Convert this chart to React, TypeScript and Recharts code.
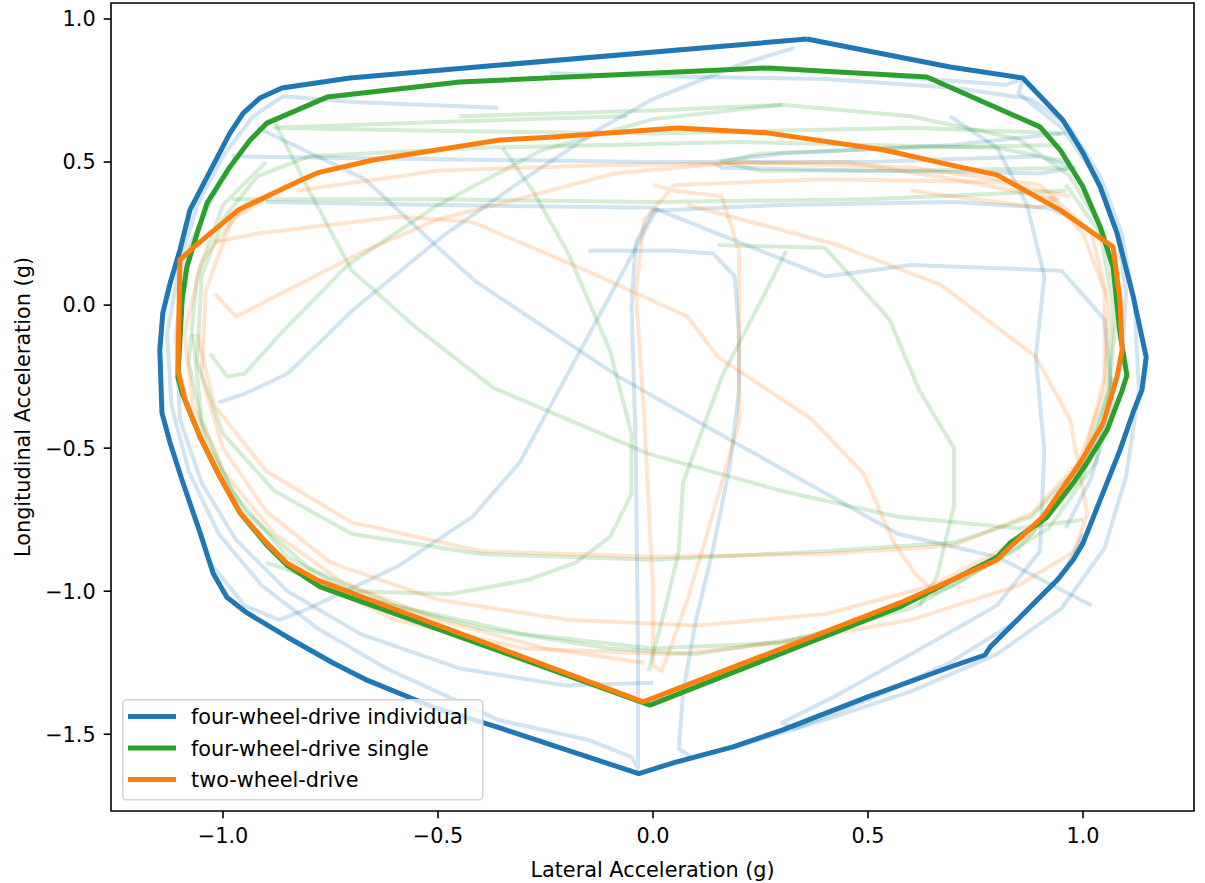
import React from 'react';
import { LineChart, Line, XAxis, YAxis, ReferenceArea, Legend, Label } from 'recharts';

type Pt = [number, number];

const FONT = '"DejaVu Sans", "Liberation Sans", sans-serif';
const BLUE = '#1f77b4';
const GREEN = '#2ca02c';
const ORANGE = '#ff7f0e';

// Axis limits and ticks
const xDomain: [number, number] = [-1.2605, 1.2581];
const yDomain: [number, number] = [-1.7683, 1.0559];
const xTicks = [-1.0, -0.5, 0.0, 0.5, 1.0];
const yTicks = [-1.5, -1.0, -0.5, 0.0, 0.5, 1.0];

// Friction-circle envelopes (lateral g, longitudinal g)
const fourWheelIndividual: Pt[] = [
  [0.358, 0.93], [0.691, 0.832], [0.86, 0.794], [0.9, 0.731], [0.953, 0.647], [1.0, 0.532],
  [1.04, 0.413], [1.079, 0.252], [1.116, 0.035], [1.147, -0.182], [1.137, -0.297], [1.116, -0.377],
  [1.086, -0.507], [1.04, -0.681], [1.0, -0.832], [0.977, -0.891], [0.94, -0.961], [0.9, -1.02],
  [0.847, -1.101], [0.784, -1.195], [0.772, -1.223], [0.691, -1.265], [0.498, -1.37], [0.302, -1.485],
  [0.186, -1.544], [0.047, -1.6], [-0.033, -1.638], [-0.356, -1.478], [-0.512, -1.405], [-0.665, -1.311],
  [-0.744, -1.251], [-0.851, -1.16], [-0.944, -1.076], [-0.991, -1.021], [-1.023, -0.937], [-1.053, -0.797],
  [-1.093, -0.622], [-1.123, -0.482], [-1.142, -0.377], [-1.147, -0.157], [-1.14, -0.027], [-1.123, 0.077],
  [-1.1, 0.193], [-1.077, 0.332], [-1.037, 0.448], [-0.984, 0.601], [-0.953, 0.671], [-0.914, 0.724],
  [-0.863, 0.759], [-0.705, 0.794], [-0.356, 0.839], [0.358, 0.93],
];

const fourWheelSingle: Pt[] = [
  [0.267, 0.829], [0.637, 0.797], [0.9, 0.623], [0.947, 0.542], [1.0, 0.413], [1.04, 0.273],
  [1.07, 0.133], [1.086, -0.098], [1.102, -0.245], [1.091, -0.298], [1.056, -0.437], [1.009, -0.552],
  [0.977, -0.622], [0.916, -0.741], [0.83, -0.832], [0.8, -0.881], [0.574, -1.055], [-0.007, -1.398],
  [-0.774, -0.985], [-0.851, -0.909], [-0.898, -0.839], [-0.96, -0.727], [-1.007, -0.601], [-1.053, -0.462],
  [-1.095, -0.308], [-1.105, -0.252], [-1.095, 0.018], [-1.084, 0.133], [-1.06, 0.252], [-1.037, 0.357],
  [-0.984, 0.483], [-0.937, 0.577], [-0.898, 0.636], [-0.758, 0.727], [-0.449, 0.78], [0.267, 0.829],
];

const twoWheel: Pt[] = [
  [0.056, 0.619], [0.265, 0.602], [0.535, 0.543], [0.691, 0.49], [0.8, 0.455], [0.947, 0.332],
  [1.07, 0.203], [1.086, 0.018], [1.091, -0.157], [1.079, -0.251], [1.047, -0.412], [0.993, -0.552],
  [0.907, -0.739], [0.823, -0.856], [0.8, -0.891], [0.574, -1.041], [-0.023, -1.387], [-0.781, -0.961],
  [-0.851, -0.902], [-0.898, -0.832], [-0.96, -0.727], [-1.007, -0.601], [-1.053, -0.462], [-1.088, -0.332],
  [-1.105, -0.227], [-1.1, 0.158], [-1.07, 0.2], [-0.965, 0.332], [-0.828, 0.43], [-0.781, 0.462],
  [-0.651, 0.507], [-0.356, 0.577], [-0.24, 0.587], [0.056, 0.619],
];

// Lap traces, four-wheel-drive individual
const blueLapA: Pt[] = [
  [-0.36, 0.69], [-0.7, 0.71], [-0.86, 0.73], [-0.93, 0.66], [-1.0, 0.52], [-1.06, 0.35], [-1.1, 0.15],
  [-1.13, -0.1], [-1.12, -0.35], [-1.08, -0.58], [-1.01, -0.8], [-0.91, -0.98], [-0.78, -1.13],
  [-0.62, -1.27], [-0.36, -1.45], [-0.15, -1.52], [-0.05, -1.58], [-0.035, -1.62], [-0.035, -1.2],
  [-0.04, -0.5], [-0.05, 0.0], [-0.04, 0.22], [0.0, 0.33], [0.3, 0.35], [0.7, 0.36], [0.92, 0.34], [0.98, 0.3],
];
const blueLapB: Pt[] = [
  [-0.15, 0.19], [0.05, 0.19], [0.14, 0.18], [0.19, 0.1], [0.2, -0.1], [0.2, -0.3], [0.18, -0.55],
  [0.14, -0.85], [0.1, -1.1], [0.07, -1.35], [0.06, -1.55], [0.09, -1.58], [0.2, -1.54], [0.4, -1.45],
  [0.6, -1.35], [0.8, -1.22], [0.95, -1.06], [1.05, -0.85], [1.1, -0.6], [1.13, -0.3], [1.12, 0.0],
  [1.09, 0.25], [1.04, 0.45], [0.97, 0.62], [0.88, 0.72], [0.7, 0.76], [0.4, 0.79], [0.0, 0.8], [-0.24, 0.81],
];
const blueLapC: Pt[] = [
  [-1.01, -0.34], [-0.95, -0.31], [-0.85, -0.24], [-0.7, -0.02], [-0.49, 0.24], [-0.3, 0.44],
  [-0.12, 0.62], [0.0, 0.72], [0.2, 0.84], [0.33, 0.9],
];
const blueLapD: Pt[] = [
  [-0.92, 0.62], [-0.67, 0.44], [-0.47, 0.16], [-0.41, 0.08], [-0.08, -0.25], [0.19, -0.48],
  [0.57, -0.8], [0.8, -0.88], [0.93, -0.98], [1.02, -1.05],
];
const blueLapE: Pt[] = [
  [0.01, 0.34], [-0.09, 0.06], [-0.31, -0.55], [-0.42, -0.74], [-0.59, -0.91], [-0.8, -1.06],
  [-0.87, -1.1], [-0.95, -1.05], [-1.03, -0.9],
];
const blueLapF: Pt[] = [
  [0.69, 0.66], [0.8, 0.55], [0.87, 0.35], [0.91, 0.1], [0.89, -0.18], [0.91, -0.51], [0.9, -0.86],
  [0.8, -1.05], [0.6, -1.22], [0.42, -1.37], [0.3, -1.46], [0.33, -1.48], [0.5, -1.38], [0.69, -1.25],
  [0.85, -1.1], [0.95, -0.95], [1.0, -0.8],
];
const blueLapG: Pt[] = [
  [-0.98, 0.52], [-0.5, 0.51], [0.0, 0.5], [0.5, 0.5], [0.9, 0.52], [0.98, 0.48], [0.9, 0.46],
  [0.5, 0.47], [0.16, 0.48], [0.14, 0.5], [0.3, 0.53], [0.7, 0.56], [0.95, 0.6],
];
const blueLapH: Pt[] = [
  [-0.9, 0.36], [-0.5, 0.35], [0.0, 0.34], [0.4, 0.1], [0.6, 0.14], [0.95, 0.12], [1.05, -0.05],
  [1.07, -0.35], [1.02, -0.6], [0.96, -0.78],
];
const blueLapI: Pt[] = [
  [-1.0, 0.45], [-1.08, 0.2], [-1.11, -0.1], [-1.1, -0.4], [-1.05, -0.62], [-0.97, -0.82],
  [-0.85, -1.0], [-0.68, -1.15], [-0.45, -1.27], [-0.2, -1.33], [0.0, -1.32],
];
const blueLapJ: Pt[] = [
  [0.55, 0.8], [0.82, 0.77], [0.86, 0.79], [0.85, 0.74], [0.95, 0.62], [1.03, 0.45], [1.08, 0.25],
  [1.1, 0.05], [1.09, -0.2], [1.04, -0.45], [0.99, -0.6],
];

// Lap traces, four-wheel-drive single
const greenLapA: Pt[] = [
  [-0.45, 0.66], [0.0, 0.68], [0.3, 0.7], [0.6, 0.66], [0.85, 0.58], [0.97, 0.45], [1.05, 0.25],
  [1.08, 0.0], [1.06, -0.3], [1.0, -0.55], [0.88, -0.74], [0.7, -0.83], [0.4, -0.86], [0.0, -0.89],
  [-0.4, -0.87], [-0.7, -0.8], [-0.88, -0.65], [-1.0, -0.45], [-1.06, -0.2], [-1.05, 0.1], [-1.0, 0.3],
  [-0.92, 0.45], [-0.8, 0.52], [-0.4, 0.55], [0.2, 0.57], [0.8, 0.55], [0.97, 0.5],
];
const greenLapB: Pt[] = [
  [-0.88, 0.64], [-0.8, 0.4], [-0.7, 0.12], [-0.55, -0.08], [-0.37, -0.29], [-0.01, -0.52],
  [0.3, -0.65], [0.57, -0.74], [0.85, -0.78], [1.0, -0.75],
];
const greenLapC: Pt[] = [
  [-1.03, -0.17], [-0.99, -0.25], [-0.95, -0.24], [-0.86, -0.09], [-0.71, 0.14], [-0.5, 0.35],
  [-0.26, 0.54], [0.0, 0.65], [0.3, 0.7],
];
const greenLapD: Pt[] = [
  [0.31, 0.19], [0.26, 0.04], [0.16, -0.25], [0.07, -0.62], [0.06, -0.86], [0.03, -1.05],
  [0.0, -1.22], [-0.01, -1.28],
];
const greenLapE: Pt[] = [
  [-0.35, 0.55], [-0.28, 0.4], [-0.2, 0.19], [-0.1, -0.16], [-0.05, -0.45], [-0.05, -0.66],
  [-0.1, -0.81], [-0.18, -0.9], [-0.29, -0.96], [-0.47, -1.01], [-0.7, -1.0], [-0.9, -0.9],
];
const greenLapF: Pt[] = [
  [0.15, 0.21], [0.4, 0.2], [0.55, -0.05], [0.62, -0.3], [0.7, -0.5], [0.7, -0.7], [0.66, -0.95], [0.62, -1.05],
];
const greenLapG: Pt[] = [
  [0.98, 0.48], [0.6, 0.47], [0.25, 0.47], [0.16, 0.5], [0.25, 0.53], [0.6, 0.55], [0.95, 0.56],
];
const greenLapH: Pt[] = [
  [-0.98, 0.37], [-0.5, 0.37], [0.0, 0.36], [0.5, 0.37], [0.96, 0.4],
];
const greenLapI: Pt[] = [
  [-1.07, -0.1], [-1.05, -0.4], [-0.98, -0.65], [-0.85, -0.88], [-0.68, -1.02], [-0.4, -1.13],
  [-0.1, -1.2], [0.1, -1.22], [0.4, -1.15], [0.7, -0.98], [0.92, -0.78], [1.03, -0.55], [1.07, -0.25],
];
const greenLapJ: Pt[] = [
  [-0.06, 0.66], [-0.5, 0.64], [-0.88, 0.62], [-0.55, 0.61], [0.0, 0.6], [0.6, 0.62], [0.96, 0.6],
];
const greenLapK: Pt[] = [
  [-0.9, 0.5], [-1.0, 0.35], [-1.06, 0.1], [-1.08, -0.2], [-1.04, -0.48], [-0.95, -0.72], [-0.8, -0.92],
  [-0.6, -1.05], [-0.3, -1.15], [0.0, -1.2], [0.3, -1.18], [0.6, -1.06], [0.85, -0.85], [1.0, -0.6],
  [1.06, -0.3], [1.07, 0.0], [1.04, 0.25], [0.96, 0.42],
];

// Lap traces, two-wheel-drive
const orangeLapA: Pt[] = [
  [-1.02, 0.04], [-0.97, -0.04], [-0.84, 0.06], [-0.67, 0.19], [-0.5, 0.3], [-0.34, 0.36], [-0.09, 0.46],
  [0.2, 0.5], [0.6, 0.48], [0.9, 0.42], [1.02, 0.25], [1.06, 0.0], [1.05, -0.3], [0.99, -0.55],
  [0.88, -0.73], [0.7, -0.84], [0.4, -0.87], [0.0, -0.88], [-0.4, -0.86], [-0.7, -0.76], [-0.9, -0.58],
  [-1.02, -0.35], [-1.06, -0.1],
];
const orangeLapB: Pt[] = [
  [-1.02, 0.22], [-0.92, 0.25], [-0.59, 0.31], [-0.42, 0.29], [-0.17, 0.13], [0.08, -0.04], [0.15, -0.18],
  [0.37, -0.4], [0.49, -0.59], [0.56, -0.83], [0.61, -0.94], [0.66, -1.01],
];
const orangeLapC: Pt[] = [
  [0.08, 0.35], [0.43, 0.21], [0.67, 0.07], [0.89, -0.18], [0.97, -0.4], [1.01, -0.73], [0.98, -0.86],
  [0.85, -0.98], [0.6, -1.1], [0.3, -1.18], [0.05, -1.22], [-0.3, -1.2], [-0.6, -1.1], [-0.85, -0.92],
];
const orangeLapD: Pt[] = [
  [0.0, 0.42], [0.05, 0.4], [0.16, 0.38], [0.2, 0.19], [0.2, -0.1], [0.2, -0.41], [0.16, -0.62],
  [0.12, -0.83], [0.08, -1.03], [0.04, -1.2], [0.02, -1.28], [0.0, -1.26], [0.0, -1.0], [-0.02, -0.4],
  [-0.04, 0.05], [-0.02, 0.3], [0.05, 0.42], [0.4, 0.44], [0.8, 0.43], [0.97, 0.38],
];
const orangeLapE: Pt[] = [
  [-0.8, 0.45], [-0.95, 0.35], [-1.05, 0.15], [-1.09, -0.1], [-1.07, -0.35], [-1.0, -0.58], [-0.88, -0.8],
  [-0.72, -0.97], [-0.5, -1.1], [-0.25, -1.2], [-0.02, -1.25],
];
const orangeLapF: Pt[] = [
  [-0.83, 0.4], [-0.5, 0.47], [-0.1, 0.49], [0.45, 0.5], [0.7, 0.44], [0.94, 0.37], [0.9, 0.34], [0.6, 0.4],
];
const orangeLapG: Pt[] = [
  [-0.85, 0.42], [-0.98, 0.3], [-1.04, 0.05], [-1.05, -0.25], [-1.0, -0.5], [-0.9, -0.72], [-0.75, -0.9],
  [-0.5, -1.03], [-0.2, -1.1], [0.1, -1.12], [0.4, -1.08], [0.65, -0.98], [0.88, -0.8], [1.0, -0.55],
  [1.05, -0.25], [1.05, 0.05], [1.0, 0.25], [0.92, 0.38],
];

const blueTraces = [blueLapA, blueLapB, blueLapC, blueLapD, blueLapE, blueLapF, blueLapG, blueLapH, blueLapI, blueLapJ];
const greenTraces = [greenLapA, greenLapB, greenLapC, greenLapD, greenLapE, greenLapF, greenLapG, greenLapH, greenLapI, greenLapJ, greenLapK];
const orangeTraces = [orangeLapA, orangeLapB, orangeLapC, orangeLapD, orangeLapE, orangeLapF, orangeLapG];

const envelopes = [
  { name: 'four-wheel-drive individual', color: BLUE, pts: fourWheelIndividual },
  { name: 'four-wheel-drive single', color: GREEN, pts: fourWheelSingle },
  { name: 'two-wheel-drive', color: ORANGE, pts: twoWheel },
];

const toRows = (pts: Pt[]) => pts.map(([x, y]) => ({ x, y }));

const fmt = (v: number) => (v < 0 ? '\u2212' : '') + Math.abs(v).toFixed(1);

const tickStyle = { fill: '#000', fontSize: 20.8, fontFamily: FONT };

const LegendBox = () => (
  <svg width={362} height={102} style={{ display: 'block' }}>
    <rect x={0.8} y={0.8} width={360} height={100} rx={4} ry={4}
      fill="rgba(255,255,255,0.8)" stroke="#d3d3d3" strokeWidth={1.6} />
    {envelopes.map((e, i) => {
      const cy = 17.5 + i * 31.5;
      return (
        <g key={e.name}>
          <line x1={6} x2={54} y1={cy} y2={cy} stroke={e.color} strokeWidth={5} />
          <text x={69} y={cy + 7.6} fontSize={20.8} fontFamily={FONT} fill="#000">{e.name}</text>
        </g>
      );
    })}
  </svg>
);

export default function App() {
  const traceGroups: { color: string; list: Pt[][]; tag: string }[] = [
    { color: BLUE, list: blueTraces, tag: 'b' },
    { color: GREEN, list: greenTraces, tag: 'g' },
    { color: ORANGE, list: orangeTraces, tag: 'o' },
  ];
  return (
    <div style={{ position: 'absolute', left: 0, top: 0, background: '#fff' }}>
      <LineChart width={1205} height={883} margin={{ top: 3, right: 11, bottom: 0, left: 0 }}>
        <XAxis type="number" dataKey="x" domain={xDomain} ticks={xTicks} allowDataOverflow
          interval={0} height={72} axisLine={false} tickSize={7.3} tickMargin={10}
          tickLine={{ stroke: '#000', strokeWidth: 1.6 }} tick={tickStyle} tickFormatter={fmt}>
          <Label value="Lateral Acceleration (g)" position="insideBottom" offset={6}
            style={{ fill: '#000', fontSize: 20.8, fontFamily: FONT }} />
        </XAxis>
        <YAxis type="number" dataKey="y" domain={yDomain} ticks={yTicks} allowDataOverflow
          interval={0} width={111} axisLine={false} tickSize={7.3} tickMargin={8}
          tickLine={{ stroke: '#000', strokeWidth: 1.6 }} tick={tickStyle} tickFormatter={fmt}>
          <Label content={() => (
            <text x={0} y={0} transform="translate(29.5,407) rotate(-90)" textAnchor="middle"
              fontSize={20.8} fontFamily={FONT} fill="#000">Longitudinal Acceleration (g)</text>
          )} />
        </YAxis>
        {traceGroups.map((grp) =>
          grp.list.map((pts, i) => (
            <Line key={`${grp.tag}${i}`} name={`${grp.tag}${i}`} data={toRows(pts)} dataKey="y"
              type="linear" stroke={grp.color} strokeOpacity={0.2} strokeWidth={4}
              strokeLinejoin="round" dot={false} activeDot={false} legendType="none"
              isAnimationActive={false} />
          ))
        )}
        {envelopes.map((e) => (
          <Line key={e.name} name={e.name} data={toRows(e.pts)} dataKey="y" type="linear"
            stroke={e.color} strokeWidth={5} strokeLinejoin="round" dot={false} activeDot={false}
            isAnimationActive={false} />
        ))}
        <ReferenceArea x1={xDomain[0]} x2={xDomain[1]} y1={yDomain[0]} y2={yDomain[1]}
          fill="none" fillOpacity={0} stroke="#000" strokeWidth={1.6} ifOverflow="visible" />
        <Legend layout="vertical" align="center" verticalAlign="middle"
          wrapperStyle={{ left: 122, top: 699, width: 362, height: 102 }}
          content={() => <LegendBox />} />
      </LineChart>
    </div>
  );
}
